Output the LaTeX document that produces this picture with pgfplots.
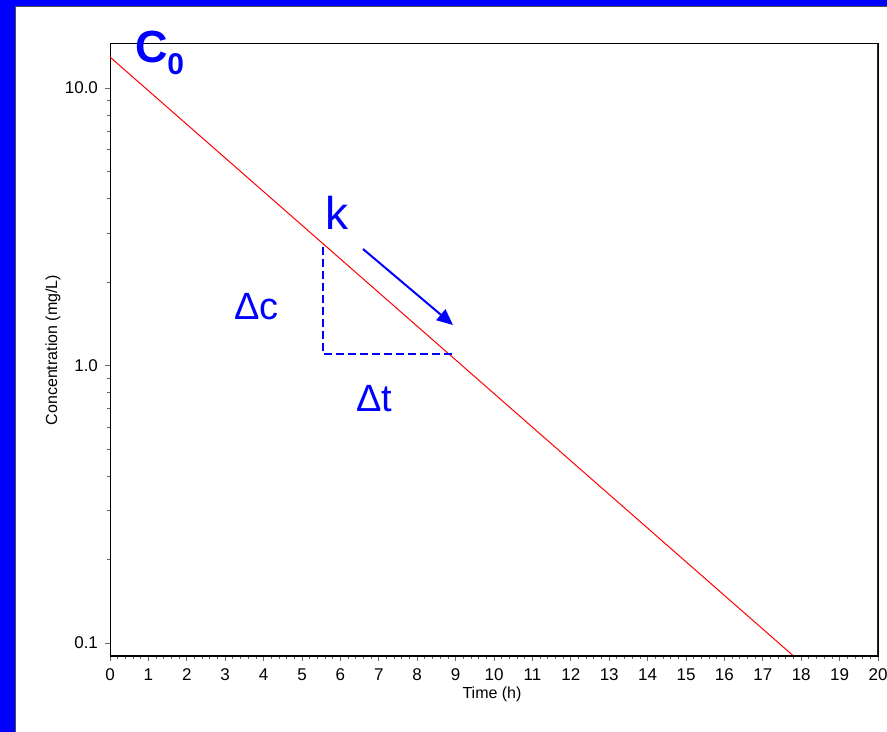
\documentclass[border=0pt]{standalone}
\usepackage{pgfplots}
\pgfplotsset{compat=1.18}
\usepackage{fontspec}
\setmainfont{Liberation Sans}
\usetikzlibrary{arrows.meta}
\begin{document}
\begin{tikzpicture}
\begin{scope}[x=0.5pt,y=-0.5pt,yshift=366pt]
\fill[blue] (0,0) rectangle (887,732);
\fill[white] (15,7) rectangle (887,732);
\draw[black!70, line width=0.5pt] (15,732) -- (15,7) -- (887,7);
\end{scope}
\begin{axis}[
 at={(55pt,38pt)}, anchor=south west,
 scale only axis, width=384pt, height=306pt,
 xmin=0, xmax=20, ymode=log, ymin=0.0898, ymax=14.41,
 xtick={0,...,20}, minor x tick num=4,
 ytick={0.1,1,10}, yticklabels={0.1,1.0,10.0},
 minor ytick={0.2,0.3,0.4,0.5,0.6,0.7,0.8,0.9,2,3,4,5,6,7,8,9},
 xtick pos=bottom, ytick pos=left,
 tick align=outside,
 major tick length=2.5pt, minor tick length=1.5pt,
 tick style={black!60, line width=0.4pt},
 axis line style={black, line width=0.5pt},
 ticklabel style={font=\fontsize{8.5}{10}\selectfont},
 /pgf/number format/assume math mode=true,
 xticklabel style={yshift=-0.5pt},
 clip=true,
]
\addplot[red, line width=0.5pt] coordinates {(0,12.93) (17.80,0.0898)};
\draw[line width=1.3pt] (rel axis cs:0,0) -- (rel axis cs:1,0);
\draw[line width=1pt, black!85] (rel axis cs:1,0) -- (rel axis cs:1,1);
\end{axis}
\begin{scope}[x=0.5pt,y=-0.5pt,yshift=366pt]
\node[rotate=90, font=\fontsize{8}{9.6}\selectfont] at (53,350) {Concentration (mg/L)};
\node[font=\fontsize{8}{9.6}\selectfont] at (492,694) {Time (h)};
\node[blue, font=\bfseries\fontsize{22.5}{22}\selectfont, anchor=base west, inner sep=0] at (135,63) {C};
\node[blue, font=\bfseries\fontsize{15}{15}\selectfont, anchor=base west, inner sep=0] at (167,75) {0};
\node[blue, font=\fontsize{23}{23}\selectfont, anchor=base west, inner sep=0] at (325,230) {k};
\node[blue, font=\fontsize{19}{19}\selectfont, anchor=base west, inner sep=0] at (234,320) {Δc};
\node[blue, font=\fontsize{19}{19}\selectfont, anchor=base west, inner sep=0] at (356,412) {Δt};
\draw[blue, line width=1pt, -{Triangle[length=8pt,width=7pt]}] (363,249) -- (453,325);
\draw[blue, line width=1pt, dash pattern=on 4pt off 2pt] (323,247) -- (323,354) -- (452,354);
\end{scope}
\pgfresetboundingbox
\path[use as bounding box] (0,0) rectangle (443.5pt,366pt);
\end{tikzpicture}
\end{document}
